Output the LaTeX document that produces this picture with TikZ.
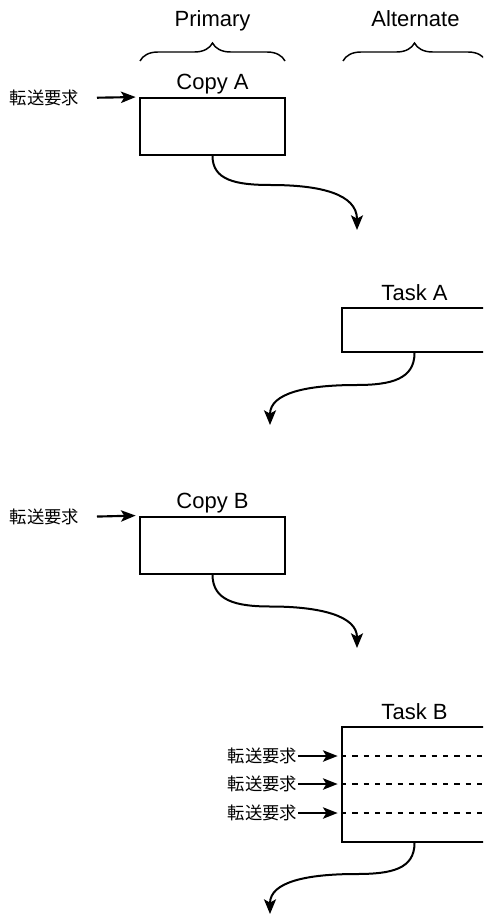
\documentclass[tikz,border=0pt]{standalone}
\usepackage{fontspec}
\setmainfont{Liberation Sans}
\newfontfamily\jpfont{Noto Sans CJK JP}
\usetikzlibrary{arrows.meta, positioning, calc, decorations.pathreplacing}
\tikzset{
  every picture/.style={line width=1.5pt},
  buf/.style={draw, rectangle, minimum width=108.75pt, minimum height=#1, inner sep=0pt},
  buf/.default=42.75pt,
  tag/.style={font=\fontsize{16.5}{18}\selectfont, anchor=base, inner sep=0pt},
  req/.style={font=\jpfont\fontsize{13}{14}\selectfont, anchor=east, inner sep=0pt},
  arrow/.style={-{Stealth[length=11pt, width=8.5pt, inset=2.5pt]}, line width=1.6pt},
  flow/.style={-{Stealth[length=11pt, width=9pt, inset=2.5pt]}, line width=1.5pt},
  brace/.style={decorate, decoration={brace, amplitude=13.5pt}, line width=1.1pt},
  slot/.style={dash pattern=on 4pt off 4.5pt, line width=1pt},
}

\begin{document}
\begin{tikzpicture}[x=0.75pt, y=0.75pt]
  \useasboundingbox (0,0) rectangle (483,-916);
  \clip (0,0) rectangle (483,-916);
  % buffers
  \node[buf] (copyA) at (212.5,-126.5) {};
  \node[buf=33pt] (taskA) at (414.5,-330) {};
  \node[buf] (copyB) at (212.5,-545) {};
  \node[buf=86.25pt] (taskB) at (414.5,-784.5) {};
  \foreach \b/\t in {copyA/Copy A, taskA/Task A, copyB/Copy B, taskB/Task B}
    \node[tag] (\b-tag) at ([yshift=5.25pt]\b.north) {\t};
  % headings
  \coordinate (pri-l) at (140,-61);
  \coordinate (pri-r) at (285,-61);
  \coordinate (alt-l) at (343,-61);
  \coordinate (alt-r) at (486,-61);
  \draw[brace] (pri-l) -- (pri-r);
  \draw[brace] (alt-l) -- (alt-r);
  \node[tag] (primary) at (212.5,-26.7) {Primary};
  \node[tag] (alternate) at (415.5,-26.7) {Alternate};
  % transfer requests
  \node[req] (reqA) at (80,-98) {転送要求};
  \node[req] (reqB) at (80,-517) {転送要求};
  \draw[arrow, shorten <=12.75pt, shorten >=2.5pt] (reqA.east) -- (copyA.north west);
  \draw[arrow, shorten <=12.75pt, shorten >=2.5pt] (reqB.east) -- (copyB.north west);
  \foreach \k/\y in {1/756, 2/784, 3/813} {
    \node[req] (reqT\k) at (298,-\y) {転送要求};
    \draw[slot] (taskB.west |- reqT\k) -- (taskB.east |- reqT\k);
    \draw[arrow, shorten >=2.5pt] (reqT\k.east) -- (taskB.west |- reqT\k);
  }
  % hand-offs
  \coordinate (outA) at (357,-230);
  \coordinate (outTA) at (270,-425);
  \coordinate (outB) at (357,-648);
  \coordinate (outTB) at (270,-914);
  \draw[flow] (copyA.south) .. controls +(0,-24) and +(-35,0) .. ($(copyA.south)+(58,-29)$)
    .. controls +(50,0) and +(0,36) .. (outA);
  \draw[flow] (taskA.south) .. controls +(0,-26) and +(35,0) .. ($(taskA.south)+(-58,-32)$)
    .. controls +(-50,0) and +(0,32) .. (outTA);
  \draw[flow] (copyB.south) .. controls +(0,-26) and +(-35,0) .. ($(copyB.south)+(58,-32)$)
    .. controls +(50,0) and +(0,32) .. (outB);
  \draw[flow] (taskB.south) .. controls +(0,-26) and +(35,0) .. ($(taskB.south)+(-58,-31)$)
    .. controls +(-50,0) and +(0,32) .. (outTB);
\end{tikzpicture}
\end{document}
